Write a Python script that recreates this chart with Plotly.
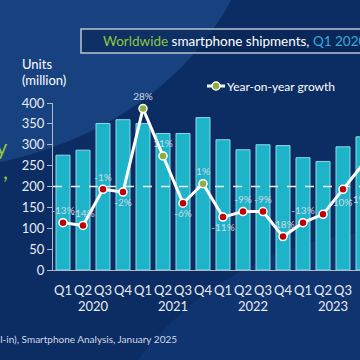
import plotly.graph_objects as go

quarters = ["Q1", "Q2", "Q3", "Q4"] * 4
years = ["2020", "2021", "2022", "2023"]
shipments = [275, 287, 351, 360, 351, 327, 327, 365, 312, 288, 300, 298, 269, 260, 295, 319]
growth = [-13, -14, -1, -2, 28, 11, -6, 1, -11, -9, -9, -18, -13, -10, -1, 8]
growth_labels = [f"{g}%" for g in growth]
label_pos = ["top center", "top center", "top center", "bottom center",
             "top center", "top center", "bottom center", "top center",
             "bottom center", "top center", "top center", "top center",
             "top center", "top right", "bottom right", "top left"]

FONT = "Lato"
L, R, T, B = 53, 0, 103, 90
W = H = 360
PW, PH = W - L - R, H - T - B

def px(x):
    return (x - L) / PW

def py(y):
    return (H - B - y) / PH

xs = list(range(len(shipments)))
marker_colors = ["#8fae3a" if g > 0 else "#c00000" for g in growth]

fig = go.Figure()
fig.add_trace(go.Bar(
    x=xs, y=shipments, width=0.7,
    marker=dict(color="#1db4ca", line=dict(color="#8fd8e4", width=1)),
    yaxis="y", hoverinfo="skip", showlegend=False,
))
fig.add_trace(go.Scatter(
    x=[-0.5, len(xs) - 0.5], y=[0, 0], mode="lines", yaxis="y2",
    line=dict(color="#e8eef6", width=1.5, dash="dash"),
    hoverinfo="skip", showlegend=False,
))
fig.add_trace(go.Scatter(
    x=xs, y=growth, yaxis="y2", mode="lines+markers+text",
    line=dict(color="white", width=3),
    marker=dict(size=8, color=marker_colors, line=dict(color="white", width=1.5)),
    text=growth_labels, textposition=label_pos,
    textfont=dict(family=FONT, size=10, color="#d0d8e2"),
    hoverinfo="skip", showlegend=False, cliponaxis=False,
))

shapes = [
    dict(type="circle", xref="paper", yref="paper", layer="below",
         x0=px(-420), x1=px(260), y0=py(170), y1=py(-400),
         fillcolor="#17427f", line=dict(width=0)),
    dict(type="circle", xref="paper", yref="paper", layer="below",
         x0=px(70), x1=px(730), y0=py(890), y1=py(230),
         fillcolor="#0f3470", line=dict(width=0)),
    dict(type="rect", xref="paper", yref="paper", layer="above",
         x0=px(81), x1=px(400), y0=py(53), y1=py(29),
         fillcolor="rgba(8,36,84,0.6)", line=dict(color="#b8c4d2", width=1.5)),
    dict(type="line", xref="paper", yref="paper",
         x0=px(207), x1=px(225), y0=py(86), y1=py(86),
         line=dict(color="white", width=3)),
    dict(type="circle", xref="paper", yref="paper",
         x0=px(212), x1=px(220), y0=py(90), y1=py(82),
         fillcolor="#8fae3a", line=dict(color="white", width=1.5)),
]

annotations = [
    dict(xref="paper", yref="paper", x=px(101), y=py(41), xanchor="left", yanchor="middle",
         showarrow=False,
         text="<span style='color:#8cc63f'>Worldwide</span> smartphone shipments, "
              "<span style='color:#3aa9d9'>Q1 2020 – Q4 2024</span>",
         font=dict(family=FONT, size=13.5, color="white")),
    dict(xref="paper", yref="paper", x=px(20), y=py(64), xanchor="left", yanchor="middle",
         showarrow=False, text="Units", font=dict(family=FONT, size=13, color="white")),
    dict(xref="paper", yref="paper", x=px(20), y=py(80), xanchor="left", yanchor="middle",
         showarrow=False, text="(million)", font=dict(family=FONT, size=13, color="white")),
    dict(xref="paper", yref="paper", x=px(225), y=py(86), xanchor="left", yanchor="middle",
         showarrow=False, text="Year-on-year growth",
         font=dict(family=FONT, size=12, color="white")),
    dict(xref="paper", yref="paper", x=px(10), y=py(146), xanchor="right", yanchor="middle",
         showarrow=False, text="y", font=dict(family=FONT, size=22, color="#8cc63f")),
    dict(xref="paper", yref="paper", x=px(10), y=py(170), xanchor="right", yanchor="middle",
         showarrow=False, text=",", font=dict(family=FONT, size=22, color="#8cc63f")),
    dict(xref="paper", yref="paper", x=px(179), y=py(339), xanchor="right", yanchor="middle",
         showarrow=False, text="Source: Omdia (sell-in), Smartphone Analysis, January 2025",
         font=dict(family=FONT, size=10, color="#d0d8e4")),
]
for i, yr in enumerate(years):
    annotations.append(dict(
        xref="x", yref="paper", x=i * 4 + 1.5, y=py(306), xanchor="center", yanchor="middle",
        showarrow=False, text=yr, font=dict(family=FONT, size=13, color="#e6ecf4")))

fig.update_layout(
    width=W, height=H,
    margin=dict(l=L, r=R, t=T, b=B, pad=0),
    paper_bgcolor="#0c2d63", plot_bgcolor="rgba(0,0,0,0)",
    showlegend=False, bargap=0.3,
    xaxis=dict(range=[-0.5, -0.5 + PW / 20], tickvals=xs, ticktext=quarters, tickangle=0,
               automargin=False,
               showgrid=False, zeroline=False, showline=True, linecolor="#aeb9c8", linewidth=1,
               ticks="", tickfont=dict(family=FONT, size=13, color="#e6ecf4"), ticklabelstandoff=8),
    yaxis=dict(range=[0, 400], tickvals=list(range(0, 401, 50)), showgrid=False, zeroline=False,
               automargin=False,
               showline=True, linecolor="#aeb9c8", linewidth=1, ticks="outside", ticklen=5,
               tickcolor="#aeb9c8", tickfont=dict(family=FONT, size=13, color="#e6ecf4")),
    yaxis2=dict(range=[-30, 30], overlaying="y", side="right", visible=False),
    shapes=shapes, annotations=annotations,
)
fig.write_html(
    "out.html",
    config={"displayModeBar": False, "staticPlot": True},
    post_script="document.body.style.margin='0';document.body.style.overflow='hidden';"
                "document.body.style.background='#0c2d63';",
)
